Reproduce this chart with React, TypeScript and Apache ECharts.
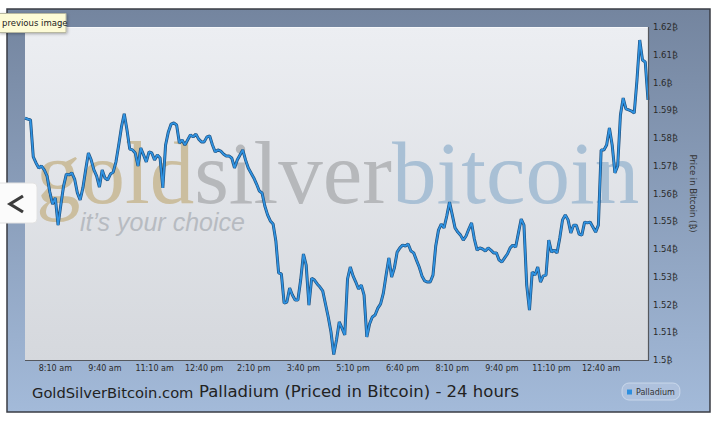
import React, { useEffect, useRef } from "react";
import * as echarts from "echarts";

// 5-minute samples starting 7:15 am
const START_MINUTES = 7 * 60 + 15;
const STEP_MINUTES = 5;

const PRICES = [
  1.5872, 1.5868, 1.5865, 1.5732, 1.571, 1.5692, 1.5699, 1.5685, 1.5663, 1.5605,
  1.5562, 1.5584, 1.5486, 1.5559, 1.5627, 1.567, 1.5667, 1.5674, 1.5652, 1.5602,
  1.5577, 1.562, 1.5685, 1.5746, 1.5721, 1.5685, 1.5663, 1.5623, 1.5685, 1.5656,
  1.5649, 1.567, 1.5677, 1.5714, 1.5775, 1.584, 1.5887, 1.5829, 1.576, 1.5757,
  1.5746, 1.5699, 1.5764, 1.5739, 1.5714, 1.575, 1.5746, 1.5721, 1.5739, 1.5728,
  1.562, 1.5775, 1.5822, 1.585, 1.5854, 1.5847, 1.5782, 1.5793, 1.5775, 1.5793,
  1.5811, 1.5804, 1.5814, 1.5796, 1.5786, 1.5786, 1.5804, 1.5807, 1.5775, 1.575,
  1.5757, 1.5753, 1.5742, 1.5735, 1.5735, 1.5728, 1.5692, 1.5721, 1.5739, 1.5757,
  1.5721, 1.5692, 1.5674, 1.5656, 1.5634, 1.5609, 1.5602, 1.5555, 1.5523, 1.5501,
  1.549, 1.5429, 1.5314, 1.531, 1.5205, 1.5209, 1.5259, 1.5234, 1.5216, 1.5216,
  1.5288, 1.5382, 1.5342, 1.5198, 1.5295, 1.5288, 1.5274, 1.5263, 1.5249, 1.5202,
  1.5155, 1.5101, 1.502, 1.5072, 1.5137, 1.5115, 1.509, 1.5292, 1.5335, 1.5303,
  1.5281, 1.5256, 1.527, 1.5234, 1.5083, 1.513, 1.5155, 1.5162, 1.5187, 1.5202,
  1.5241, 1.5306, 1.5368, 1.5299, 1.5332, 1.5389, 1.5404, 1.5414, 1.5411, 1.5418,
  1.5393, 1.5386, 1.536, 1.5335, 1.5303, 1.5285, 1.5281, 1.5281, 1.5306, 1.5411,
  1.5468, 1.549, 1.5476, 1.5519, 1.5569, 1.5523, 1.5476, 1.5461, 1.545, 1.5432,
  1.5447, 1.5472, 1.5494, 1.5436, 1.5396, 1.5404, 1.54, 1.5393, 1.5404, 1.5396,
  1.5386, 1.5386, 1.536, 1.5353, 1.5368, 1.5382, 1.5404, 1.5414, 1.5407, 1.5458,
  1.5508, 1.5486, 1.527, 1.518, 1.5317, 1.5306, 1.5335, 1.5281, 1.5303, 1.5306,
  1.5432, 1.5389, 1.5396, 1.5386, 1.544, 1.5505, 1.5523, 1.5505, 1.5458, 1.5486,
  1.5486, 1.5454, 1.545, 1.5497, 1.5494, 1.5497, 1.5479, 1.5461, 1.5486, 1.5757,
  1.5757, 1.5775, 1.5836, 1.5775, 1.5674, 1.5699, 1.5883, 1.5944, 1.5905, 1.5901,
  1.5897, 1.589, 1.6009, 1.6153, 1.6081, 1.6074, 1.5937,
];

const TICK_LABELS = [
  "8:10 am", "9:40 am", "11:10 am", "12:40 pm", "2:10 pm", "3:40 pm",
  "5:10 pm", "6:40 pm", "8:10 pm", "9:40 pm", "11:10 pm", "12:40 am",
];
const FIRST_TICK_INDEX = 11;
const TICK_EVERY = 18;

const Y_MIN = 1.5;
const Y_MAX = 1.62;
const Y_STEP = 0.01;

const SERIES_NAME = "Palladium";
const BTC = "\u20BF";

function timeLabel(m: number): string {
  const mm = ((m % 1440) + 1440) % 1440;
  const h24 = Math.floor(mm / 60);
  const min = mm % 60;
  const ampm = h24 < 12 ? "am" : "pm";
  const h = h24 % 12 === 0 ? 12 : h24 % 12;
  return `${h}:${String(min).padStart(2, "0")} ${ampm}`;
}

const CATEGORIES = PRICES.map((_, i) => timeLabel(START_MINUTES + i * STEP_MINUTES));

export default function App() {
  const ref = useRef<HTMLDivElement>(null);

  useEffect(() => {
    if (!ref.current) return;
    const chart = echarts.init(ref.current, undefined, { renderer: "svg" });
    const gridL = 25, gridT = 27, gridR = 648, gridB = 360;

    chart.setOption({
      animation: false,
      backgroundColor: "#ffffff",
      grid: { left: gridL, top: gridT, right: 720 - gridR, bottom: 422 - gridB, containLabel: false },
      legend: {
        data: [{ name: SERIES_NAME, icon: "rect" }],
        left: 622,
        top: 383,
        itemWidth: 5,
        itemHeight: 5,
        itemGap: 4,
        padding: [5, 5, 4, 5],
        backgroundColor: "rgba(185,203,228,0.55)",
        borderColor: "rgba(205,218,236,0.9)",
        borderWidth: 1,
        borderRadius: 7,
        textStyle: { fontSize: 8, color: "#333", fontFamily: "DejaVu Sans", padding: [0, 0, 0, -1] },
      },
      xAxis: {
        type: "category",
        data: CATEGORIES,
        boundaryGap: false,
        axisLine: { show: false },
        axisTick: { show: false },
        splitLine: { show: false },
        axisLabel: {
          interval: (i: number) => i >= FIRST_TICK_INDEX && (i - FIRST_TICK_INDEX) % TICK_EVERY === 0,
          formatter: (_v: string, i: number) => TICK_LABELS[(i - FIRST_TICK_INDEX) / TICK_EVERY] ?? "",
          fontSize: 8,
          color: "#2a2a2a",
          fontFamily: "DejaVu Sans",
          margin: 4,
        },
      },
      yAxis: {
        type: "value",
        position: "right",
        min: Y_MIN,
        max: Y_MAX,
        interval: Y_STEP,
        axisLine: { show: false },
        axisTick: { show: false },
        splitLine: { show: false },
        axisLabel: {
          formatter: (v: number) => `${parseFloat(v.toFixed(2))}${BTC}`,
          fontSize: 8.5,
          color: "#2a2a2a",
          fontFamily: "DejaVu Sans",
          margin: 5,
        },
        name: `Price in Bitcoin (${BTC})`,
        nameLocation: "middle",
        nameRotate: -90,
        nameGap: 34,
        nameTextStyle: { fontSize: 8.5, color: "#333", fontFamily: "DejaVu Sans" },
      },
      graphic: [
        {
          type: "rect", z: -30, silent: true,
          shape: { x: 7, y: 9, width: 703, height: 403 },
          style: {
            fill: new echarts.graphic.LinearGradient(0, 0, 0, 1, [
              { offset: 0, color: "#74859f" },
              { offset: 1, color: "#a3bad9" },
            ]),
            stroke: "#3a3d44", lineWidth: 1.5,
          },
        },
        {
          type: "rect", z: -29, silent: true,
          shape: { x: gridL, y: gridT, width: gridR - gridL, height: gridB - gridT },
          style: {
            fill: new echarts.graphic.LinearGradient(0, 0, 0, 1, [
              { offset: 0, color: "#eceef2" },
              { offset: 1, color: "#d5d8dd" },
            ]),
          },
        },
        {
          type: "text", z: -28, silent: true, x: 36, y: 173,
          style: {
            text: "{g|gold}{s|silver}{b|bitcoin}",
            verticalAlign: "middle",
            rich: {
              g: { fontFamily: "Liberation Serif", fontSize: 89, fill: "#cbbe9f" },
              s: { fontFamily: "Liberation Serif", fontSize: 89, fill: "#b6b8bb" },
              b: { fontFamily: "Liberation Serif", fontSize: 89, fill: "#a9c0d5" },
            },
          },
        },
        {
          type: "text", z: -27, silent: true, x: 80, y: 222,
          style: {
            text: "it\u2019s your choice", fontFamily: "Liberation Sans", fontStyle: "italic",
            fontSize: 25, fill: "#b7bbc1", verticalAlign: "middle",
          },
        },
        { type: "line", z: 5, silent: true, shape: { x1: gridL, y1: gridT + 0.5, x2: gridR, y2: gridT + 0.5 }, style: { stroke: "#f7f8fa", lineWidth: 1 } },
        { type: "line", z: 5, silent: true, shape: { x1: gridL, y1: gridB + 0.5, x2: gridR + 1, y2: gridB + 0.5 }, style: { stroke: "#55585e", lineWidth: 1.2 } },
        { type: "line", z: 5, silent: true, shape: { x1: gridR + 0.5, y1: gridT, x2: gridR + 0.5, y2: gridB }, style: { stroke: "#55585e", lineWidth: 1.2 } },
        {
          type: "text", z: 6, silent: true, x: 32, y: 392,
          style: { text: "GoldSilverBitcoin.com", fontFamily: "DejaVu Sans", fontSize: 14.7, fill: "#222", verticalAlign: "middle" },
        },
        {
          type: "text", z: 6, silent: true, x: 199, y: 391,
          style: { text: "Palladium (Priced in Bitcoin) - 24 hours", fontFamily: "DejaVu Sans", fontSize: 16.5, fill: "#222", verticalAlign: "middle" },
        },
        {
          type: "rect", z: 50, silent: true,
          shape: { x: -6, y: 183, width: 43, height: 40, r: 4 },
          style: { fill: "#fbfbfb", stroke: "#e2e2e2", lineWidth: 1 },
        },
        {
          type: "polyline", z: 51, silent: true,
          shape: { points: [[23, 196], [10, 204], [23, 212]] },
          style: { stroke: "#3c3c3c", lineWidth: 3.2, fill: "none" },
        },
        {
          type: "rect", z: 52, silent: true,
          shape: { x: -1, y: 13.5, width: 67, height: 19 },
          style: { fill: "#fdfbd6", stroke: "#b8b8a0", lineWidth: 1, shadowBlur: 3, shadowColor: "rgba(0,0,0,0.3)", shadowOffsetX: 1, shadowOffsetY: 1 },
        },
        {
          type: "text", z: 53, silent: true, x: 2, y: 23,
          style: { text: "previous image", fontFamily: "DejaVu Sans", fontSize: 8.5, fill: "#222", verticalAlign: "middle" },
        },
      ],
      series: [
        {
          name: "outline",
          type: "line",
          data: PRICES,
          showSymbol: false,
          symbol: "none",
          silent: true,
          z: 2,
          lineStyle: { color: "#1f4f7c", width: 3 },
        },
        {
          name: SERIES_NAME,
          type: "line",
          data: PRICES,
          showSymbol: false,
          symbol: "none",
          z: 3,
          itemStyle: { color: "#2d8fde" },
          lineStyle: { color: "#2f93e2", width: 1.7 },
        },
      ],
    });

    return () => chart.dispose();
  }, []);

  return (
    <div
      ref={ref}
      style={{ position: "absolute", left: 0, top: 0, width: 720, height: 422, background: "#fff" }}
    />
  );
}
